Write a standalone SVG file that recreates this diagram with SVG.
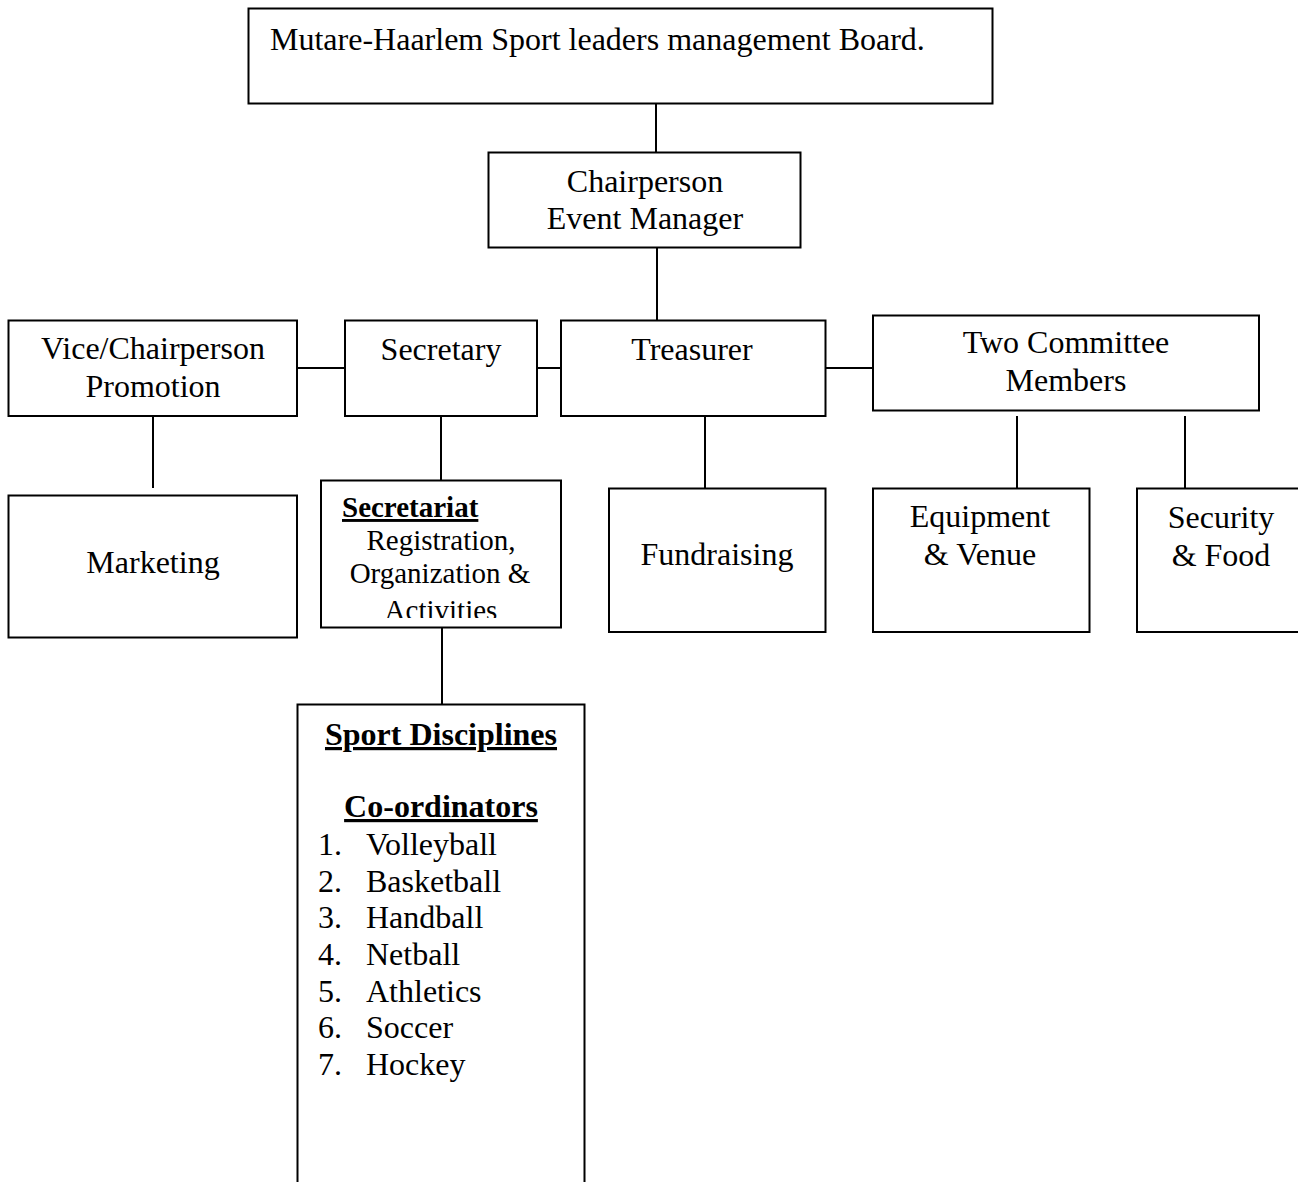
<svg xmlns="http://www.w3.org/2000/svg" width="1298" height="1182" viewBox="0 0 1298 1182">
<style>
.box{fill:#fff;stroke:#000;stroke-width:2}
.ln{stroke:#000;stroke-width:2;fill:none}
text{font-family:"Liberation Serif","Times New Roman",serif;font-size:32px;fill:#000}
.c{text-anchor:middle}
.b{font-weight:bold;text-decoration:underline}
.s{font-size:29px}
</style>
<defs>
<clipPath id="secClip"><rect x="321" y="481" width="240" height="137"/></clipPath>
</defs>
<rect width="1298" height="1182" fill="#fff"/>
<g id="connectors">
<line class="ln" x1="656" y1="104" x2="656" y2="153"/>
<line class="ln" x1="657" y1="248" x2="657" y2="320"/>
<line class="ln" x1="297" y1="368" x2="345" y2="368"/>
<line class="ln" x1="537" y1="368" x2="561" y2="368"/>
<line class="ln" x1="825" y1="368" x2="873" y2="368"/>
<line class="ln" x1="153" y1="416" x2="153" y2="488"/>
<line class="ln" x1="441" y1="416" x2="441" y2="488"/>
<line class="ln" x1="705" y1="416" x2="705" y2="488"/>
<line class="ln" x1="1017" y1="416" x2="1017" y2="488"/>
<line class="ln" x1="1185" y1="416" x2="1185" y2="488"/>
<line class="ln" x1="442" y1="621" x2="442" y2="704"/>
</g>
<g id="board">
<rect class="box" x="248.5" y="8.5" width="744" height="95"/>
<text x="270" y="50">Mutare-Haarlem Sport leaders management Board.</text>
</g>
<g id="chairperson">
<rect class="box" x="488.5" y="152.5" width="312" height="95"/>
<text class="c" x="645" y="192">Chairperson</text>
<text class="c" x="645" y="229">Event Manager</text>
</g>
<g id="vice">
<rect class="box" x="8.5" y="320.5" width="288.5" height="95.5"/>
<text class="c" x="153" y="359">Vice/Chairperson</text>
<text class="c" x="153" y="397">Promotion</text>
</g>
<g id="secretary">
<rect class="box" x="345" y="320.5" width="192" height="95.5"/>
<text class="c" x="441" y="360">Secretary</text>
</g>
<g id="treasurer">
<rect class="box" x="561" y="320.5" width="264.5" height="95.5"/>
<text class="c" x="692" y="360">Treasurer</text>
</g>
<g id="committee">
<rect class="box" x="873" y="315.5" width="386" height="95"/>
<text class="c" x="1066" y="353">Two Committee</text>
<text class="c" x="1066" y="391">Members</text>
</g>
<g id="marketing">
<rect class="box" x="8.5" y="495.5" width="288.5" height="142"/>
<text class="c" x="153" y="573">Marketing</text>
</g>
<g id="secretariat">
<rect class="box" x="321" y="480.5" width="240" height="147"/>
<g clip-path="url(#secClip)">
<text class="s b" x="342" y="517">Secretariat</text>
<text class="s c" x="441" y="550">Registration,</text>
<text class="s c" x="440" y="583">Organization &amp;</text>
<text class="s c" x="441" y="620">Activities</text>
</g>
</g>
<g id="fundraising">
<rect class="box" x="609" y="488.5" width="216.5" height="143.5"/>
<text class="c" x="717" y="565">Fundraising</text>
</g>
<g id="equipment">
<rect class="box" x="873" y="488.5" width="216.5" height="143.5"/>
<text class="c" x="980" y="527">Equipment</text>
<text class="c" x="980" y="565">&amp; Venue</text>
</g>
<g id="security">
<rect class="box" x="1137" y="488.5" width="170" height="143.5"/>
<text class="c" x="1221" y="528">Security</text>
<text class="c" x="1221" y="566">&amp; Food</text>
</g>
<g id="disciplines">
<path class="ln" d="M297.5 1182 V704.5 H584.5 V1182"/>
<text class="b c" x="441" y="745">Sport Disciplines</text>
<text class="b c" x="441" y="817">Co-ordinators</text>
<text x="318" y="855">1.</text><text x="366" y="855">Volleyball</text>
<text x="318" y="892">2.</text><text x="366" y="892">Basketball</text>
<text x="318" y="928">3.</text><text x="366" y="928">Handball</text>
<text x="318" y="965">4.</text><text x="366" y="965">Netball</text>
<text x="318" y="1002">5.</text><text x="366" y="1002">Athletics</text>
<text x="318" y="1038">6.</text><text x="366" y="1038">Soccer</text>
<text x="318" y="1075">7.</text><text x="366" y="1075">Hockey</text>
</g>
</svg>
